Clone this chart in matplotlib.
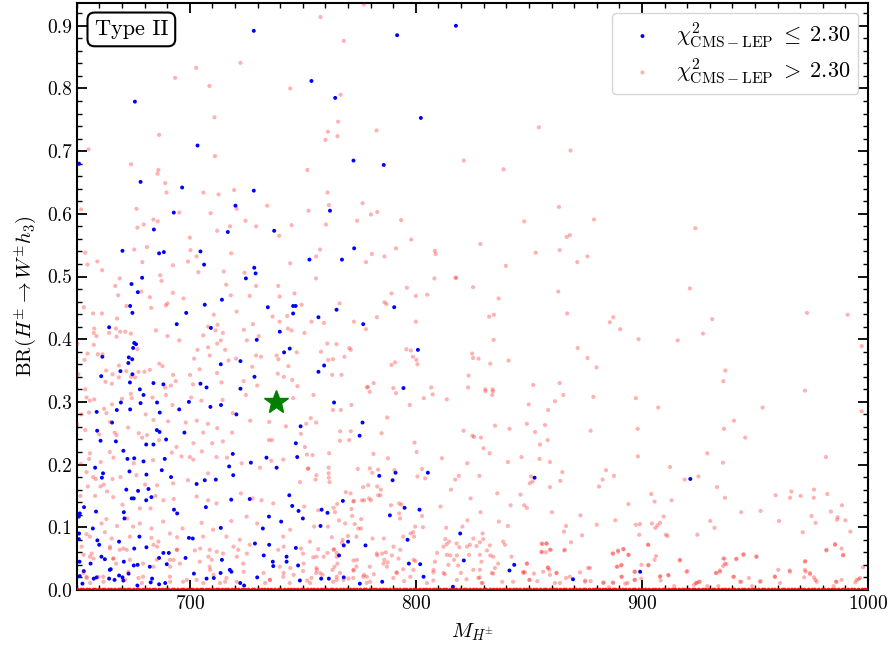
import matplotlib
matplotlib.use("Agg")
import matplotlib.pyplot as plt
from matplotlib.ticker import MultipleLocator

plt.rcParams['font.family'] = 'serif'
plt.rcParams['font.serif'] = ['cmr10', 'DejaVu Serif']
plt.rcParams['mathtext.fontset'] = 'cm'
plt.rcParams['axes.unicode_minus'] = False
plt.rcParams['axes.formatter.use_mathtext'] = True

# ---------------- data ----------------
blue_m = [
    651.0, 675.7, 678.2, 696.6, 703.4, 728.3, 728.3, 753.8, 764.3, 772.4,
    791.7, 817.7, 802.2, 785.8, 720.2, 692.9, 762.0, 684.1, 716.8, 737.3,
    670.2, 686.4, 688.5, 704.7, 772.7, 706.3, 752.9, 767.3, 728.5, 729.1,
    724.8, 678.9, 674.2, 677.0, 714.2, 673.6, 674.6, 706.6, 698.4, 734.5,
    745.7, 746.8, 745.7, 764.9, 756.9, 776.7, 694.2, 664.3, 709.3, 739.8,
    675.4, 676.2, 674.9, 729.6, 661.3, 673.0, 674.5, 672.8, 741.7, 744.2,
    713.7, 722.4, 759.4, 756.9, 669.3, 674.6, 660.8, 728.6, 673.5, 683.9,
    688.3, 704.7, 677.9, 707.4, 722.4, 790.4, 800.9, 794.5, 679.5, 669.5,
    667.7, 678.2, 673.6, 685.5, 686.7, 695.3, 699.6, 709.1, 713.8, 720.6,
    763.8, 658.8, 665.6, 659.0, 660.5, 667.3, 685.4, 686.6, 689.5, 697.6,
    680.7, 683.9, 746.9, 749.0, 775.1, 776.4, 670.6, 672.4, 675.4, 679.5,
    688.9, 719.0, 717.4, 727.0, 733.9, 738.4, 747.5, 658.1, 661.6, 661.1,
    673.3, 680.8, 687.6, 691.7, 703.0, 706.6, 711.5, 719.2, 671.9, 674.3,
    675.2, 677.1, 681.7, 683.0, 680.7, 718.3, 726.5, 744.0, 745.3, 748.1,
    750.0, 758.3, 760.9, 767.7, 757.8, 653.2, 651.3, 650.9, 658.5, 670.8,
    671.1, 693.0, 694.4, 707.1, 735.0, 740.4, 732.3, 713.7, 657.1, 651.0,
    650.9, 677.7, 699.6, 701.3, 659.1, 659.9, 668.7, 675.4, 680.8, 688.3,
    690.7, 686.4, 698.1, 714.2, 728.8, 735.1, 746.9, 732.7, 736.7, 736.9,
    742.8, 742.8, 766.0, 768.1, 770.0, 777.7, 660.9, 662.4, 656.1, 651.2,
    653.1, 651.3, 670.8, 664.6, 665.0, 675.2, 676.9, 682.3, 689.8, 668.7,
    670.2, 657.5, 658.8, 664.3, 666.7, 670.6, 672.9, 682.7, 683.3, 676.8,
    686.4, 689.1, 701.8, 707.4, 710.6, 713.6, 717.7, 718.4, 722.3, 724.0,
    729.8, 748.7, 747.9, 758.1, 761.5, 768.1, 775.2, 652.5, 783.8, 791.0,
    789.7, 805.3, 852.5, 795.0, 801.6, 788.5, 796.3, 819.6, 821.2, 796.9,
    801.9, 841.4, 843.5, 803.4, 785.1, 816.4, 869.5, 921.4, 899.2,
]
blue_br = [
    0.680, 0.779, 0.651, 0.642, 0.709, 0.892, 0.637, 0.812, 0.785, 0.685,
    0.885, 0.900, 0.753, 0.678, 0.613, 0.602, 0.605, 0.575, 0.571, 0.573,
    0.541, 0.537, 0.539, 0.540, 0.545, 0.519, 0.527, 0.527, 0.514, 0.505,
    0.497, 0.498, 0.488, 0.475, 0.463, 0.453, 0.442, 0.455, 0.442, 0.451,
    0.453, 0.453, 0.441, 0.447, 0.435, 0.424, 0.424, 0.419, 0.418, 0.412,
    0.394, 0.392, 0.386, 0.399, 0.372, 0.371, 0.368, 0.362, 0.379, 0.385,
    0.360, 0.365, 0.358, 0.348, 0.349, 0.344, 0.341, 0.340, 0.331, 0.330,
    0.328, 0.329, 0.320, 0.323, 0.321, 0.451, 0.383, 0.322, 0.311, 0.299,
    0.287, 0.298, 0.288, 0.299, 0.283, 0.288, 0.300, 0.292, 0.295, 0.280,
    0.299, 0.284, 0.267, 0.254, 0.238, 0.237, 0.255, 0.252, 0.240, 0.251,
    0.232, 0.232, 0.234, 0.261, 0.246, 0.267, 0.222, 0.209, 0.210, 0.205,
    0.209, 0.217, 0.197, 0.203, 0.211, 0.195, 0.212, 0.195, 0.186, 0.179,
    0.189, 0.184, 0.191, 0.180, 0.169, 0.175, 0.176, 0.183, 0.160, 0.146,
    0.146, 0.158, 0.161, 0.148, 0.143, 0.144, 0.145, 0.151, 0.134, 0.126,
    0.114, 0.128, 0.123, 0.142, 0.102, 0.132, 0.122, 0.117, 0.125, 0.124,
    0.114, 0.128, 0.122, 0.132, 0.117, 0.109, 0.098, 0.099, 0.098, 0.090,
    0.081, 0.085, 0.083, 0.082, 0.079, 0.072, 0.077, 0.066, 0.068, 0.059,
    0.059, 0.051, 0.051, 0.048, 0.074, 0.072, 0.067, 0.055, 0.045, 0.038,
    0.053, 0.045, 0.055, 0.071, 0.077, 0.071, 0.053, 0.049, 0.042, 0.045,
    0.030, 0.022, 0.045, 0.032, 0.033, 0.039, 0.040, 0.037, 0.041, 0.023,
    0.020, 0.018, 0.020, 0.018, 0.016, 0.015, 0.026, 0.012, 0.018, 0.007,
    0.009, 0.011, 0.026, 0.018, 0.019, 0.027, 0.032, 0.029, 0.011, 0.007,
    0.020, 0.015, 0.039, 0.018, 0.018, 0.020, 0.010, 0.010, 0.182, 0.187,
    0.175, 0.187, 0.179, 0.131, 0.128, 0.119, 0.080, 0.090, 0.047, 0.042,
    0.041, 0.031, 0.040, 0.021, 0.013, 0.005, 0.017, 0.177, 0.029,
]

red_m = [
    757.8, 768.1, 722.4, 702.8, 693.5, 708.7, 744.4, 766.7, 710.9, 765.6,
    761.1, 686.4, 765.3, 760.0, 655.2, 711.1, 674.0, 686.1, 685.7, 752.0,
    689.1, 689.7, 706.0, 712.7, 719.6, 760.9, 782.6, 854.4, 868.4, 821.2,
    838.8, 878.8, 923.6, 921.2, 777.0,
    676.4, 651.9, 695.3, 709.2, 720.7, 734.2, 752.5, 761.5, 776.4, 683.9,
    685.8, 679.6, 676.8, 717.8, 724.6, 729.3, 712.1, 739.5, 745.0, 760.2,
    774.0, 700.0, 681.0, 675.4, 700.3, 718.3, 653.7, 654.7, 659.1, 661.2,
    679.0, 692.5, 699.2, 703.0, 703.8, 715.0, 724.2, 744.4, 755.9, 757.6,
    755.8, 777.9, 669.0, 667.0, 686.9, 687.5, 668.3, 678.5, 682.3, 692.5,
    697.2, 716.1, 718.1, 729.3, 726.5, 739.1, 739.7, 746.3, 766.2, 653.1,
    671.9, 682.9, 689.4, 690.1, 749.4, 710.6, 720.7, 657.2, 661.1, 667.8,
    736.6, 739.7, 743.1, 753.8, 759.3, 772.6, 727.9, 657.7, 657.5, 658.7,
    667.3, 664.3, 667.6, 669.2, 671.4, 673.9, 685.0, 690.1, 695.3, 705.9,
    708.1, 712.3, 711.4, 714.6, 723.9, 730.5, 743.4, 745.0, 750.7, 777.9,
    657.5, 708.1, 712.1, 713.7, 725.2, 760.8, 764.9, 676.8, 703.4, 715.6,
    747.3, 758.0, 770.5, 659.3, 661.4, 654.7, 653.4, 701.9, 708.8, 717.1,
    720.4, 729.3, 731.5, 738.4, 739.2, 761.2, 763.3, 768.4, 668.6, 686.5,
    687.9, 704.3, 727.6, 743.6, 663.0, 665.8, 671.9, 677.3, 679.9, 682.3,
    692.6, 700.1, 712.0, 738.9, 741.6, 763.0, 767.1, 745.3, 662.7, 665.5,
    668.6, 674.0, 675.8, 693.8, 691.6, 689.1, 701.4, 714.0, 723.8, 729.8,
    747.6, 778.3, 653.7, 650.7, 650.3,
    780.1, 782.9, 793.5, 797.9, 847.9, 863.3, 866.7, 868.1, 828.5,
    780.5, 786.1, 791.2, 808.4, 808.7, 853.0, 863.6, 871.4, 875.9, 839.8,
    808.2, 817.5, 817.9, 825.3, 796.0, 789.2, 800.0, 805.0, 836.6, 863.0,
    786.1, 787.0, 832.4, 834.5, 866.9, 782.7, 800.0, 834.4, 771.2, 795.8,
    797.8, 798.7, 800.2, 800.7, 790.8, 789.2, 824.9, 825.3, 827.7, 832.9,
    841.0, 871.6, 875.9, 879.9, 823.3, 778.8, 781.3, 790.0, 806.8, 823.1,
    830.7, 833.9, 851.9, 863.6,
    973.0, 991.0, 885.8, 887.3, 931.1, 890.4, 927.0, 898.5, 915.8, 997.2,
    936.9, 936.0, 972.1, 878.5, 897.3, 907.2, 953.4, 997.2, 940.7, 877.3,
    898.1, 936.3, 945.7, 928.9, 898.2, 981.4, 935.8, 912.4, 884.1, 887.6,
    882.6, 881.0, 918.9, 925.0, 933.2, 904.1, 905.6, 913.1, 894.0, 936.7,
    952.5, 943.9, 959.1, 965.5, 966.1, 970.2, 976.1, 976.0, 982.0, 975.0,
    976.8, 983.6, 986.6, 986.3, 990.0, 992.2, 988.5, 960.6, 971.1, 985.4,
    981.5, 988.3, 988.9, 997.8, 995.9, 994.4, 985.8, 972.3, 972.4, 974.4,
    976.1, 976.7, 971.8, 965.3, 960.3, 958.8, 947.3, 952.5, 943.9, 940.7,
    936.5, 937.4, 935.9, 941.6, 945.0, 950.6, 934.5, 932.6, 930.2, 932.1,
    924.5, 920.1, 916.8, 923.9, 923.0, 925.1, 910.6, 911.3, 909.6, 904.4,
    905.9, 906.9, 908.0, 899.1, 897.3, 902.7, 898.8, 894.1, 891.9, 889.4,
    887.0, 888.2, 880.0, 890.8, 889.2, 891.0, 902.9, 906.2, 905.6, 896.7,
    896.7, 899.7, 908.1, 908.3, 911.8, 914.3, 883.0, 885.4, 887.1, 892.6,
    893.6, 877.0, 928.9, 933.8, 948.7, 984.8,
    754.7, 779.6, 791.2, 803.5, 807.4, 813.7, 830.8, 833.8, 834.1, 865.2,
    771.5, 797.3, 763.3, 766.8, 849.9, 861.5, 858.5, 753.5, 751.5, 787.3,
    849.1, 857.1, 835.0, 841.4, 749.1, 766.5, 784.8, 821.1, 825.0, 825.7,
    828.8, 852.7, 766.4, 770.5, 799.4, 800.3, 854.9, 858.3, 750.9, 751.8,
    754.3, 761.6, 781.2, 787.6, 811.5, 829.9, 832.6, 840.7, 846.7, 854.7,
    859.3, 822.7, 752.4, 761.4, 761.4, 774.3, 779.6, 780.7, 783.3, 790.5,
    802.7, 804.1, 800.7, 817.4, 819.0, 828.1, 850.9, 851.6, 850.4, 859.3,
    863.9, 864.8, 748.7, 755.6, 761.5, 761.8, 778.9, 776.7, 782.9, 784.5,
    815.5, 836.0, 846.3, 769.0, 771.1, 779.3, 783.3, 784.3, 776.1, 780.1,
    789.0, 792.6, 793.6, 765.2, 772.6, 771.5, 771.8, 763.6, 764.2, 792.6,
    802.7, 810.9, 824.2, 828.6, 841.9, 847.9, 849.1, 860.2, 872.8, 775.8,
    793.0, 766.0, 755.0, 761.1, 768.7, 775.7, 799.7, 803.1, 813.4, 820.6,
    822.8, 836.7, 840.7, 865.5, 866.4, 762.8, 767.6, 767.3, 770.0, 780.8,
    785.8, 794.4, 797.6, 798.8, 799.2, 813.0, 813.6, 814.7, 818.0, 819.2,
    825.4, 829.5, 829.8, 823.9, 826.8, 832.7, 839.4, 856.0, 857.8, 855.6,
    857.5, 859.7, 865.6, 749.2, 756.8, 763.8, 764.9, 760.9, 754.6, 759.2,
    772.4, 765.3, 782.9, 785.1, 786.7, 786.0, 787.5, 779.6, 789.4, 792.3,
    799.8, 808.4, 809.4, 815.2, 818.1, 816.9, 814.4, 818.7, 823.5, 828.3,
    831.4, 832.9, 836.4, 849.2, 858.3, 859.0, 862.2, 852.2, 834.2, 825.4,
    819.9, 812.8, 807.7, 798.9, 794.4, 791.4, 781.4, 777.1, 772.4, 770.2,
    766.4, 764.0, 763.1, 755.9, 758.7, 750.1, 751.9, 764.9, 778.2, 790.0,
    794.8, 807.7, 822.4, 828.3, 829.5, 838.2, 847.5, 848.2, 850.1, 853.7,
    861.5, 866.4, 874.9, 877.3, 872.6, 873.5, 868.6,
    654.3, 655.8, 657.7, 665.6, 670.0, 673.9, 674.3, 683.5, 689.4, 692.3,
    700.6, 705.1, 714.5, 724.8, 745.7, 652.1, 655.4, 662.1, 663.1, 664.7,
    680.5, 683.9, 690.4, 698.2, 703.1, 708.0, 712.1, 718.7, 719.0, 726.7,
    735.1, 735.0, 736.3, 742.5, 755.9, 771.2, 650.1, 653.7, 659.9, 666.7,
    667.6, 672.7, 677.4, 678.9, 681.0, 686.4, 694.1, 701.6, 705.9, 709.9,
    714.6, 705.3, 700.0, 701.5, 696.3, 692.0, 683.7, 675.2, 664.6, 666.2,
    660.6, 655.8, 655.4, 651.8, 654.3, 657.2, 658.4, 661.9, 665.8, 669.3,
    676.4, 680.2, 685.5, 692.6, 699.2, 708.1, 711.8, 716.4, 722.9, 731.0,
    736.0, 741.3, 752.2, 756.0, 654.9, 651.6, 658.1, 666.1, 670.2, 663.4,
    660.5, 684.8, 688.3, 692.9, 682.6, 677.9, 703.0, 708.1, 711.8, 722.6,
    727.7, 731.7, 736.9, 750.6, 756.8, 772.3, 777.1, 772.9, 660.9, 663.1,
    667.8, 672.3, 674.9, 677.9, 683.0, 688.2, 696.8, 705.2, 710.3, 718.3,
    725.1, 729.8, 744.4, 774.5, 654.3, 655.8, 662.4, 665.4, 673.5,
    683.0, 691.2, 694.4, 705.9, 716.2, 722.1, 726.5, 741.3, 753.1, 773.7,
    652.1, 664.6, 669.0, 685.5, 694.4, 702.2, 708.8, 714.7, 721.4, 739.1,
    750.1, 756.0, 655.8, 666.1, 673.5, 679.3, 691.2, 695.6, 704.4, 708.8,
    723.6, 739.8, 756.0, 773.7, 654.3, 661.6, 679.3, 691.2, 697.0, 703.0,
    716.2, 720.7, 735.4, 741.3, 744.2, 753.8, 763.4, 772.3, 776.7,
]
red_br = [
    0.914, 0.876, 0.841, 0.833, 0.817, 0.804, 0.800, 0.790, 0.754, 0.747,
    0.731, 0.726, 0.724, 0.718, 0.703, 0.692, 0.679, 0.670, 0.664, 0.670,
    0.649, 0.634, 0.634, 0.631, 0.638, 0.634, 0.733, 0.738, 0.701, 0.685,
    0.671, 0.591, 0.577, 0.481, 0.934,
    0.608, 0.607, 0.602, 0.601, 0.608, 0.613, 0.605, 0.614, 0.617, 0.591,
    0.588, 0.583, 0.578, 0.580, 0.589, 0.580, 0.573, 0.565, 0.582, 0.583,
    0.589, 0.562, 0.547, 0.543, 0.542, 0.537, 0.538, 0.519, 0.524, 0.510,
    0.523, 0.518, 0.524, 0.532, 0.507, 0.508, 0.506, 0.521, 0.532, 0.543,
    0.497, 0.523, 0.497, 0.485, 0.502, 0.493, 0.470, 0.476, 0.467, 0.474,
    0.465, 0.487, 0.470, 0.485, 0.469, 0.485, 0.468, 0.473, 0.457, 0.451,
    0.453, 0.450, 0.454, 0.457, 0.455, 0.439, 0.444, 0.441, 0.441, 0.433,
    0.436, 0.428, 0.437, 0.428, 0.426, 0.428, 0.424, 0.417, 0.410, 0.405,
    0.417, 0.410, 0.404, 0.412, 0.412, 0.409, 0.414, 0.405, 0.398, 0.406,
    0.420, 0.423, 0.414, 0.410, 0.415, 0.405, 0.417, 0.414, 0.410, 0.416,
    0.391, 0.387, 0.393, 0.398, 0.398, 0.393, 0.392, 0.384, 0.383, 0.383,
    0.379, 0.380, 0.386, 0.376, 0.376, 0.377, 0.367, 0.369, 0.374, 0.366,
    0.369, 0.374, 0.372, 0.374, 0.368, 0.367, 0.368, 0.372, 0.358, 0.361,
    0.357, 0.352, 0.356, 0.357, 0.350, 0.344, 0.349, 0.348, 0.348, 0.351,
    0.343, 0.343, 0.346, 0.345, 0.340, 0.343, 0.343, 0.335, 0.332, 0.329,
    0.339, 0.340, 0.339, 0.333, 0.326, 0.323, 0.328, 0.331, 0.333, 0.326,
    0.325, 0.323, 0.320, 0.344, 0.393,
    0.599, 0.603, 0.590, 0.559, 0.588, 0.611, 0.563, 0.566, 0.552,
    0.536, 0.532, 0.545, 0.541, 0.536, 0.538, 0.542, 0.523, 0.532, 0.517,
    0.497, 0.498, 0.498, 0.483, 0.482, 0.473, 0.469, 0.471, 0.465, 0.476,
    0.459, 0.456, 0.436, 0.439, 0.441, 0.435, 0.428, 0.399, 0.383, 0.384,
    0.382, 0.372, 0.367, 0.360, 0.363, 0.359, 0.377, 0.370, 0.369, 0.361,
    0.366, 0.386, 0.370, 0.355, 0.342, 0.324, 0.330, 0.322, 0.323, 0.323,
    0.320, 0.320, 0.327, 0.330,
    0.442, 0.439, 0.427, 0.435, 0.432, 0.416, 0.409, 0.400, 0.398, 0.389,
    0.350, 0.333, 0.318, 0.308, 0.306, 0.291, 0.291, 0.285, 0.270, 0.254,
    0.257, 0.257, 0.243, 0.218, 0.213, 0.212, 0.203, 0.196, 0.191, 0.182,
    0.176, 0.165, 0.176, 0.181, 0.164, 0.153, 0.141, 0.143, 0.137, 0.147,
    0.126, 0.124, 0.151, 0.147, 0.157, 0.150, 0.160, 0.147, 0.153, 0.118,
    0.107, 0.125, 0.116, 0.112, 0.111, 0.093, 0.135, 0.110, 0.092, 0.073,
    0.063, 0.066, 0.055, 0.036, 0.017, 0.012, 0.013, 0.046, 0.029, 0.025,
    0.020, 0.016, 0.020, 0.031, 0.032, 0.021, 0.019, 0.014, 0.013, 0.021,
    0.050, 0.041, 0.038, 0.049, 0.057, 0.053, 0.031, 0.027, 0.110, 0.099,
    0.088, 0.030, 0.047, 0.011, 0.008, 0.013, 0.088, 0.086, 0.117, 0.106,
    0.099, 0.103, 0.107, 0.105, 0.104, 0.072, 0.088, 0.056, 0.065, 0.063,
    0.058, 0.111, 0.104, 0.039, 0.037, 0.021, 0.039, 0.054, 0.048, 0.029,
    0.016, 0.018, 0.022, 0.015, 0.023, 0.006, 0.012, 0.004, 0.012, 0.010,
    0.011, 0.035, 0.006, 0.006, 0.006, 0.006,
    0.311, 0.316, 0.314, 0.306, 0.312, 0.304, 0.317, 0.311, 0.317, 0.311,
    0.295, 0.295, 0.287, 0.287, 0.296, 0.301, 0.287, 0.274, 0.265, 0.275,
    0.265, 0.263, 0.262, 0.257, 0.249, 0.253, 0.250, 0.254, 0.246, 0.244,
    0.243, 0.252, 0.238, 0.239, 0.235, 0.220, 0.232, 0.239, 0.228, 0.216,
    0.215, 0.218, 0.217, 0.210, 0.210, 0.226, 0.218, 0.204, 0.212, 0.209,
    0.204, 0.202, 0.194, 0.195, 0.186, 0.193, 0.194, 0.187, 0.192, 0.191,
    0.193, 0.178, 0.181, 0.176, 0.182, 0.182, 0.181, 0.173, 0.170, 0.164,
    0.174, 0.188, 0.172, 0.176, 0.179, 0.172, 0.167, 0.164, 0.165, 0.160,
    0.160, 0.154, 0.152, 0.156, 0.154, 0.146, 0.151, 0.151, 0.143, 0.143,
    0.135, 0.138, 0.136, 0.137, 0.142, 0.129, 0.118, 0.131, 0.124, 0.122,
    0.118, 0.133, 0.146, 0.124, 0.135, 0.135, 0.131, 0.124, 0.119, 0.113,
    0.114, 0.111, 0.101, 0.101, 0.106, 0.098, 0.101, 0.100, 0.099, 0.101,
    0.111, 0.109, 0.102, 0.093, 0.102, 0.084, 0.080, 0.075, 0.086, 0.082,
    0.082, 0.085, 0.090, 0.092, 0.085, 0.081, 0.073, 0.077, 0.074, 0.068,
    0.082, 0.090, 0.081, 0.072, 0.070, 0.071, 0.072, 0.073, 0.074, 0.060,
    0.060, 0.064, 0.063, 0.066, 0.065, 0.065, 0.059, 0.059, 0.052, 0.053,
    0.047, 0.042, 0.055, 0.058, 0.060, 0.048, 0.044, 0.037, 0.055, 0.050,
    0.046, 0.045, 0.059, 0.055, 0.055, 0.048, 0.040, 0.039, 0.056, 0.076,
    0.063, 0.055, 0.042, 0.042, 0.036, 0.032, 0.027, 0.026, 0.026, 0.032,
    0.027, 0.025, 0.028, 0.032, 0.033, 0.028, 0.025, 0.024, 0.031, 0.018,
    0.027, 0.037, 0.032, 0.027, 0.024, 0.030, 0.015, 0.016, 0.011, 0.019,
    0.014, 0.015, 0.017, 0.020, 0.011, 0.013, 0.027, 0.028, 0.016, 0.014,
    0.011, 0.019, 0.015, 0.014, 0.028, 0.087, 0.076,
    0.307, 0.302, 0.304, 0.296, 0.305, 0.313, 0.306, 0.307, 0.311, 0.295,
    0.307, 0.302, 0.303, 0.311, 0.306, 0.280, 0.283, 0.289, 0.282, 0.268,
    0.280, 0.271, 0.269, 0.267, 0.270, 0.265, 0.258, 0.251, 0.282, 0.270,
    0.268, 0.239, 0.239, 0.261, 0.267, 0.253, 0.264, 0.255, 0.248, 0.251,
    0.247, 0.259, 0.250, 0.243, 0.247, 0.239, 0.228, 0.234, 0.251, 0.234,
    0.237, 0.221, 0.212, 0.208, 0.213, 0.219, 0.207, 0.202, 0.220, 0.211,
    0.204, 0.218, 0.209, 0.201, 0.188, 0.180, 0.177, 0.168, 0.177, 0.180,
    0.183, 0.168, 0.167, 0.170, 0.175, 0.186, 0.212, 0.211, 0.202, 0.195,
    0.206, 0.208, 0.193, 0.183, 0.165, 0.150, 0.150, 0.148, 0.136, 0.157,
    0.165, 0.150, 0.143, 0.145, 0.130, 0.130, 0.149, 0.143, 0.138, 0.154,
    0.146, 0.143, 0.138, 0.133, 0.127, 0.141, 0.143, 0.105, 0.106, 0.113,
    0.102, 0.114, 0.101, 0.106, 0.098, 0.109, 0.098, 0.107, 0.096, 0.110,
    0.117, 0.106, 0.096, 0.098, 0.089, 0.085, 0.092, 0.082, 0.085,
    0.083, 0.090, 0.084, 0.085, 0.085, 0.080, 0.072, 0.085, 0.077, 0.085,
    0.069, 0.066, 0.064, 0.069, 0.064, 0.063, 0.064, 0.058, 0.064, 0.064,
    0.058, 0.053, 0.053, 0.050, 0.048, 0.042, 0.048, 0.042, 0.045, 0.037,
    0.042, 0.037, 0.035, 0.037, 0.021, 0.021, 0.021, 0.021, 0.013, 0.016,
    0.019, 0.013, 0.016, 0.021, 0.011, 0.019, 0.013, 0.019, 0.021,
]

# extra low-BR red points (bottom strip of the reference)
red_low_m = [
    653.0, 656.6, 657.4, 653.0, 654.4, 655.9, 659.6, 661.8, 664.7, 666.2,
    667.4, 670.6, 672.1, 672.8, 671.4, 677.3, 678.8, 683.9, 686.1, 685.4,
    683.9, 692.8, 691.3, 694.2, 691.3, 698.7, 704.6, 708.2, 709.7, 711.9,
    709.0, 710.5, 706.0, 713.4, 715.6, 719.3, 720.8, 723.8, 725.2, 732.6,
    733.3, 735.5, 741.5, 744.4, 745.9, 741.5, 750.3, 753.2, 756.2, 757.7,
    763.6, 765.0, 765.0, 768.0, 772.4, 773.9, 778.3, 779.8, 782.7, 785.7,
    787.2, 790.1, 793.1, 791.6, 797.5, 799.0, 804.9, 807.8, 812.2, 813.7,
    812.2, 818.1, 822.6,
    828.3, 829.0, 828.3, 827.6, 829.1, 834.2, 835.0, 833.5, 838.6, 842.3,
    843.0, 847.5, 849.0, 850.4, 855.6, 857.8, 855.6, 859.3, 856.3, 858.5,
    859.3, 862.2, 863.7, 865.9, 868.1, 876.2, 874.8, 882.9, 887.3, 889.5,
    891.7, 894.0, 888.8, 891.0, 891.0, 887.3, 896.9, 899.8, 896.9, 902.8,
    902.8, 908.0, 911.6, 916.8, 919.7, 924.2, 925.7, 933.0, 934.5, 936.0,
    936.7, 940.4, 941.9, 944.8, 943.4, 950.7, 952.2, 958.8, 961.1, 965.5,
    972.1, 972.1, 974.3, 977.3, 981.7, 985.4, 989.1, 986.1, 988.3, 995.0,
    996.5,
]
red_low_br = [
    0.056, 0.058, 0.050, 0.027, 0.019, 0.011, 0.021, 0.013, 0.069, 0.050,
    0.042, 0.066, 0.064, 0.029, 0.016, 0.019, 0.011, 0.072, 0.077, 0.048,
    0.037, 0.048, 0.037, 0.064, 0.013, 0.016, 0.066, 0.053, 0.048, 0.061,
    0.032, 0.024, 0.011, 0.011, 0.013, 0.069, 0.053, 0.029, 0.058, 0.027,
    0.011, 0.016, 0.027, 0.035, 0.024, 0.069, 0.042, 0.011, 0.032, 0.027,
    0.064, 0.053, 0.021, 0.016, 0.032, 0.048, 0.021, 0.013, 0.058, 0.042,
    0.037, 0.069, 0.064, 0.027, 0.021, 0.048, 0.011, 0.032, 0.069, 0.056,
    0.027, 0.016, 0.069,
    0.056, 0.045, 0.032, 0.019, 0.011, 0.053, 0.035, 0.027, 0.077, 0.053,
    0.013, 0.029, 0.042, 0.016, 0.074, 0.074, 0.061, 0.064, 0.029, 0.035,
    0.024, 0.027, 0.011, 0.064, 0.021, 0.035, 0.013, 0.011, 0.058, 0.061,
    0.065, 0.056, 0.037, 0.040, 0.021, 0.011, 0.029, 0.040, 0.016, 0.072,
    0.040, 0.021, 0.024, 0.048, 0.029, 0.011, 0.013, 0.027, 0.029, 0.050,
    0.042, 0.021, 0.050, 0.056, 0.013, 0.053, 0.013, 0.021, 0.011, 0.029,
    0.045, 0.032, 0.027, 0.013, 0.064, 0.072, 0.056, 0.013, 0.016, 0.016,
    0.019,
]

# points sitting at BR = 0 (dense band on the x axis)
zero_m = [
    650.3, 651.9, 652.8, 654.5, 655.6, 657.4, 658.2, 659.9, 661.5, 662.4,
    664.1, 665.3, 666.9, 668.6, 669.4, 671.2, 672.7, 673.5, 675.3, 676.8,
    677.6, 679.4, 680.9, 682.2, 683.8, 684.7, 686.5, 687.9, 689.3, 690.6,
    692.4, 693.1, 694.8, 696.5, 697.3, 699.0, 700.6, 701.5, 703.2, 704.9,
    705.7, 707.4, 708.6, 710.3, 711.9, 712.8, 714.4, 715.9, 717.1, 718.8,
    720.2, 721.6, 723.3, 724.5, 726.0, 727.8, 728.7, 730.4, 731.9, 733.2,
    734.6, 736.1, 737.7, 739.4, 740.3, 742.0, 743.6, 744.9, 746.3, 747.8,
    749.5, 750.4, 752.1, 753.7, 755.0, 756.6, 758.2, 759.1, 760.8, 762.5,
    763.4, 765.0, 766.7, 768.1, 769.5, 771.2, 772.6, 773.9, 775.5, 777.2,
    778.0, 779.8, 781.3, 782.5, 784.2, 785.7, 787.0, 788.6, 790.3, 791.5,
    793.0, 794.7, 795.9, 797.6, 799.2, 800.1, 801.8, 803.5, 804.7, 806.2,
    807.9, 809.1, 810.8, 812.4, 813.6, 815.3, 816.8, 818.0, 819.7, 821.4,
    822.3, 824.0, 825.6, 826.9, 828.5, 830.2, 831.1, 832.9, 834.4, 835.8,
    837.2, 838.9, 840.3, 841.7, 843.4, 844.6, 846.1, 847.9, 849.2, 850.6,
    852.3, 853.5, 855.1, 856.8, 857.7, 859.4, 861.0, 862.3, 863.9, 865.5,
    866.4, 868.2, 869.7, 871.0, 872.6, 874.3, 875.1, 876.8, 878.5, 879.6,
    881.3, 882.9, 884.0, 885.7, 887.4, 888.3, 890.0, 891.6, 892.9, 894.5,
    896.2, 897.0, 898.8, 900.4, 901.7, 903.2, 904.9, 906.1, 907.7, 909.4,
    910.3, 912.0, 913.6, 914.8, 916.5, 918.1, 919.2, 920.9, 922.6, 923.5,
    925.2, 926.9, 928.1, 929.7, 931.4, 932.3, 934.0, 935.6, 936.9, 938.5,
    940.2, 941.1, 942.8, 944.5, 945.6, 947.3, 948.9, 950.0, 951.7, 953.4,
    954.3, 956.0, 957.6, 958.9, 960.5, 962.2, 963.1, 964.8, 966.4, 967.7,
    969.3, 970.9, 972.0, 973.8, 975.4, 976.5, 978.2, 979.9, 980.8, 982.5,
    984.1, 985.4, 987.0, 988.7, 989.6, 991.3, 992.9, 994.1, 995.8, 997.5,
    998.6, 999.7,
]
zero_br = [0.0] * len(zero_m)

bench_m = [738.0]
bench_br = [0.30]

x_ticks = [700, 800, 900, 1000]
y_ticks = [0.0, 0.1, 0.2, 0.3, 0.4, 0.5, 0.6, 0.7, 0.8, 0.9]

# ---------------- figure ----------------
fig = plt.figure(figsize=(8.93, 6.54), dpi=100)
ax = fig.add_axes([0.086, 0.098, 0.886, 0.898])

ax.scatter(blue_m, blue_br, s=8, color='blue', edgecolors='none',
           label=r'$\chi^2_{\rm CMS-LEP}\;\leq\;2.30$', zorder=2)
ax.scatter(red_m + red_low_m, red_br + red_low_br, s=9, color='red',
           alpha=0.3, edgecolors='none',
           label=r'$\chi^2_{\rm CMS-LEP}\;>\;2.30$', zorder=3)
ax.scatter(zero_m, zero_br, s=10, color='red', alpha=0.9, edgecolors='none',
           zorder=3)
ax.plot(bench_m, bench_br, marker='*', color='green', markersize=18,
        linestyle='none', zorder=5)

ax.set_xlim(650, 1000)
ax.set_ylim(0.0, 0.937)
ax.set_xticks(x_ticks)
ax.set_yticks(y_ticks)
ax.set_yticklabels([f'{v:.1f}' for v in y_ticks])
ax.xaxis.set_minor_locator(MultipleLocator(10))
ax.yaxis.set_minor_locator(MultipleLocator(0.02))
ax.tick_params(which='both', direction='in', top=True, right=True,
               labelsize=14)
ax.tick_params(which='major', length=7, width=1.3)
ax.tick_params(which='minor', length=3.5, width=1.0)
for sp in ax.spines.values():
    sp.set_linewidth(1.5)

ax.set_xlabel(r'$M_{H^{\pm}}$', fontsize=15, labelpad=6)
ax.set_ylabel(r'BR$(H^{\pm} \to W^{\pm} h_3)$', fontsize=15, labelpad=6)

ax.text(0.0225, 0.971, 'Type II', transform=ax.transAxes, fontsize=16,
        ha='left', va='top',
        bbox=dict(boxstyle='round,pad=0.32', fc='white', ec='black', lw=1.5))

leg = ax.legend(loc='upper right', fontsize=16, frameon=True,
                markerscale=1.0, handletextpad=0.5, borderpad=0.35,
                labelspacing=0.3, borderaxespad=0.45)
leg.legend_handles[0].set_alpha(1.0)
leg.legend_handles[1].set_alpha(0.3)

fig.savefig('out.png', dpi=100)
